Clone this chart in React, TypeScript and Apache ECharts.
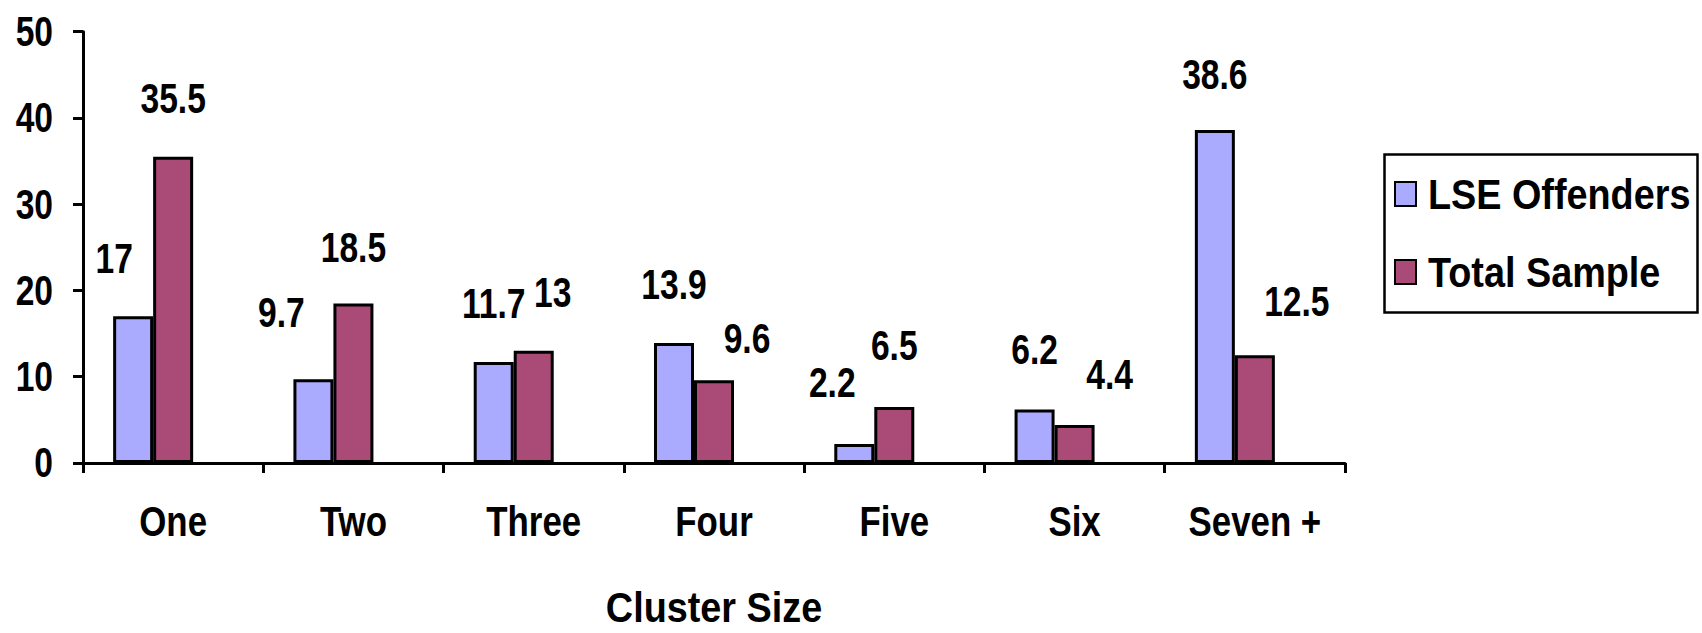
import React, { useEffect, useRef } from "react";
import * as echarts from "echarts";

const categories = ["One", "Two", "Three", "Four", "Five", "Six", "Seven +"];
const lseOffenders = [17, 9.7, 11.7, 13.9, 2.2, 6.2, 38.6];
const totalSample = [35.5, 18.5, 13, 9.6, 6.5, 4.4, 12.5];
const seriesNames = ["LSE Offenders", "Total Sample"];
const axisTitle = "Cluster Size";
const yTicks = { min: 0, max: 50, interval: 10 };

// manual label nudges (as in the original chart)
const lseLabelOffsets = [[-19, 0], [-32, -9], [0, 0], [0, 0], [-22, -3], [0, -2], [0, 3]];
const totalLabelOffsets = [[0, 0], [0, 2], [19, 0], [33, 16], [0, -3], [35, 8], [42, 4]];

const FONT = '"Liberation Sans", Arial, sans-serif';
const FS = 42;

export default function App() {
  const ref = useRef<HTMLDivElement>(null);
  useEffect(() => {
    document.body.style.margin = "0";
    const chart = echarts.init(ref.current!, null, { renderer: "svg" });
    const txt = { color: "#000", fontSize: FS, fontWeight: "bold", fontFamily: FONT };
    const labelBase = { show: true, position: "top", distance: 37, ...txt };
    const mk = (vals: number[], offs: number[][]) =>
      vals.map((v, i) => ({ value: v, label: { offset: offs[i] } }));
    chart.setOption({
      animation: false,
      backgroundColor: "#fff",
      grid: { left: 83, right: 357, top: 31.7, bottom: 168.3, containLabel: false },
      graphic: [
        {
          type: "rect",
          left: 1382,
          top: 152,
          shape: { width: 313, height: 158 },
          style: { fill: "none", stroke: "#000", lineWidth: 2.5 },
          silent: true,
        },
      ],
      legend: {
        data: seriesNames,
        orient: "vertical",
        left: 1382,
        top: 152,
        borderWidth: 0,
        padding: [21, 5, 17, 12],
        itemWidth: 21,
        itemHeight: 24,
        itemGap: 36,
        icon: "rect",
        textStyle: { ...txt, padding: [0, 0, 0, 7] },
      },
      xAxis: {
        type: "category",
        data: categories,
        name: axisTitle,
        nameLocation: "middle",
        nameGap: 123,
        nameTextStyle: txt,
        axisLine: { lineStyle: { color: "#000", width: 3 } },
        axisTick: { show: true, length: 10, lineStyle: { color: "#000", width: 3 } },
        axisLabel: { ...txt, margin: 37, interval: 0 },
        splitLine: { show: false },
      },
      yAxis: {
        type: "value",
        min: yTicks.min,
        max: yTicks.max,
        interval: yTicks.interval,
        axisLine: { show: true, lineStyle: { color: "#000", width: 3 } },
        axisTick: { show: true, length: 10, lineStyle: { color: "#000", width: 3 } },
        axisLabel: { ...txt, margin: 30 },
        splitLine: { show: false },
      },
      series: [
        {
          name: seriesNames[0],
          type: "bar",
          data: mk(lseOffenders, lseLabelOffsets),
          barWidth: 40,
          barGap: "0%",
          itemStyle: { color: "#AAAAFF", borderColor: "#000", borderWidth: 3 },
          label: labelBase,
        },
        {
          name: seriesNames[1],
          type: "bar",
          data: mk(totalSample, totalLabelOffsets),
          barWidth: 40,
          barGap: "0%",
          itemStyle: { color: "#AA4A77", borderColor: "#000", borderWidth: 3 },
          label: labelBase,
        },
        {
          name: "_spacer",
          type: "bar",
          data: categories.map(() => null),
          barWidth: 40,
          barGap: "0%",
          silent: true,
        },
      ],
    });

    // condense the bold texts horizontally (narrow-font look of the original)
    const condense = () => {
      const root = ref.current;
      if (!root) return;
      root.querySelectorAll("text").forEach((t) => {
        const content = (t.textContent || "").trim();
        let s = 0.8;
        if (seriesNames.includes(content) || content === axisTitle) s = 0.9;
        else if (categories.includes(content)) s = 0.83;
        const x = parseFloat(t.getAttribute("x") || "0") || 0;
        const y = parseFloat(t.getAttribute("y") || "0") || 0;
        const suffix = ` translate(${x} ${y}) scale(${s} 1) translate(${-x} ${-y})`;
        const tr = t.getAttribute("transform") || "";
        if (!tr.endsWith(suffix)) t.setAttribute("transform", tr + suffix);
      });
    };
    condense();
    chart.on("finished", condense);
    return () => chart.dispose();
  }, []);
  return <div ref={ref} style={{ width: 1702, height: 633 }} />;
}
